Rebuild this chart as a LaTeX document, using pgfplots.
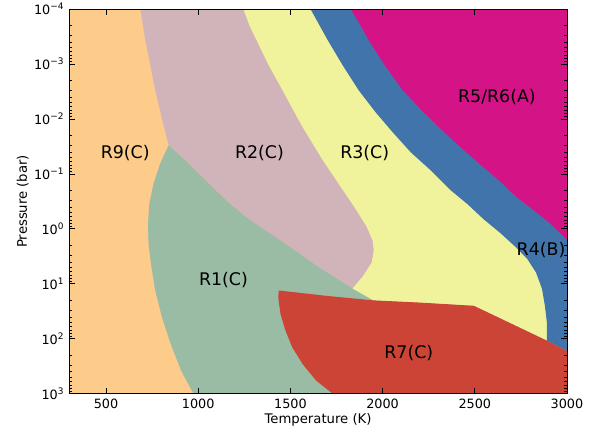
\documentclass[border=0pt]{standalone}
\usepackage{pgfplots}
\pgfplotsset{compat=1.18}
\usepackage{fontspec}
\setmainfont{DejaVu Sans}
\definecolor{cR9}{RGB}{253,204,138}
\definecolor{cR2}{RGB}{209,180,186}
\definecolor{cR1}{RGB}{155,188,164}
\definecolor{cR3}{RGB}{240,243,155}
\definecolor{cR4}{RGB}{66,116,172}
\definecolor{cR5}{RGB}{212,20,134}
\definecolor{cR7}{RGB}{204,68,54}
\begin{document}
\begin{tikzpicture}
\begin{axis}[
  at={(0,0)}, anchor=south west,
  scale only axis, width=357.8pt, height=276.5pt,
  xmin=300, xmax=3000, ymin=1e-4, ymax=1e3,
  ymode=log, y dir=reverse,
  axis on top,
  axis line style={line width=0.7pt},
  tick style={black, line width=0.6pt},
  major tick length=4pt, minor tick length=2pt,
  xtick={500,1000,1500,2000,2500,3000},
  xticklabels={500,1000,1500,2000,2500,3000},
  minor x tick num=0,
  ytick={1e-4,1e-3,1e-2,1e-1,1,10,100,1000},
  yticklabels={10\textsuperscript{−4},10\textsuperscript{−3},10\textsuperscript{−2},10\textsuperscript{−1},10\textsuperscript{0},10\textsuperscript{1},10\textsuperscript{2},10\textsuperscript{3}},
  ticklabel style={font=\fontsize{9.2}{11}\selectfont},
  xlabel={Temperature (K)}, ylabel={Pressure (bar)},
  label style={font=\fontsize{9.5}{11}\selectfont},
  xlabel style={yshift=3pt},
  ylabel style={yshift=-3pt},
  tick align=inside,
]
% R9 background
\addplot[fill=cR9, draw=none] coordinates {(300,1e-4) (3000,1e-4) (3000,1000) (300,1000)} -- cycle;
% R2
\addplot[fill=cR2, draw=none] coordinates {
(686,1e-4) (713,3.67e-4) (767,3.00e-3) (805,1.05e-2) (840,3.01e-2)
(794,0.0650) (758,0.150) (735,0.348) (728,0.805) (731,1.87) (744,4.32) (767,13.2) (804,40.6) (851,124) (908,380) (975,1000)
(3000,1000) (3000,1e-4)} -- cycle;
% R1
\addplot[fill=cR1, draw=none] coordinates {
(840,3.01e-2) (957,6.98e-2) (1066,0.161) (1175,0.359) (1283,0.702) (1463,1.77) (1647,4.84) (1837,12.2)
(1951,20.0) (1951,1000) (975,1000) (908,380) (851,124) (804,40.6) (767,13.2) (744,4.32) (731,1.87) (728,0.805)
(735,0.348) (758,0.150) (794,0.0650)} -- cycle;
% R3
\addplot[fill=cR3, draw=none] coordinates {
(1245,1e-4) (1278,2.0e-4) (1316,3.67e-4) (1382,1.05e-3) (1457,3.00e-3) (1560,1.30e-2) (1669,5.20e-2) (1767,0.161) (1848,0.406) (1913,0.903)
(1946,1.63) (1952,2.48) (1941,4.09) (1892,7.36) (1837,12.2) (1951,20.0) (2495,25.1) (2891,108) (3000,166) (3000,1e-4)} -- cycle;
% R4
\addplot[fill=cR4, draw=none] coordinates {
(1609,1e-4) (1702,3.67e-4) (1783,1.05e-3) (1870,3.00e-3) (1962,7.55e-3) (2055,1.75e-2) (2153,4.05e-2) (2261,8.61e-2)
(2370,0.199) (2462,0.359) (2549,0.673) (2641,1.21) (2718,2.09) (2783,3.46) (2832,6.22) (2864,12.2) (2880,24.9)
(2891,50.8) (2891,108) (3000,166) (3000,1e-4)} -- cycle;
% R5/R6
\addplot[fill=cR5, draw=none] coordinates {
(1827,1e-4) (1876,1.88e-4) (1924,3.67e-4) (2011,1.05e-3) (2109,3.00e-3) (2201,6.38e-3) (2294,1.30e-2) (2381,2.44e-2)
(2452,4.0e-2) (2535,7.0e-2) (2625,0.126) (2730,0.270) (2821,0.461) (2905,0.780) (3005,1.63) (3005,1e-4)} -- cycle;
% R7
\addplot[fill=cR7, draw=none] coordinates {
(1437,13.2) (1700,16.6) (1951,20.0) (2200,21.9) (2495,25.1) (2891,108) (3000,166) (3000,1000)
(1730,1000) (1640,579) (1566,288) (1510,143) (1473,71.0) (1446,35.2) (1434,17.6)} -- cycle;
\begin{scope}[font=\fontsize{12.5}{14}\selectfont]
\node at (axis cs:604,0.0417) {R9(C)};
\node at (axis cs:1332,0.0417) {R2(C)};
\node at (axis cs:1903,0.0417) {R3(C)};
\node at (axis cs:2620,0.0040) {R5/R6(A)};
\node at (axis cs:2859,2.45) {R4(B)};
\node at (axis cs:1137,8.7) {R1(C)};
\node at (axis cs:2142,178) {R7(C)};
\end{scope}
\end{axis}
\pgfresetboundingbox
\path[use as bounding box] (-49.7pt,-32.4pt) rectangle (380.8pt,283pt);
\end{tikzpicture}
\end{document}
